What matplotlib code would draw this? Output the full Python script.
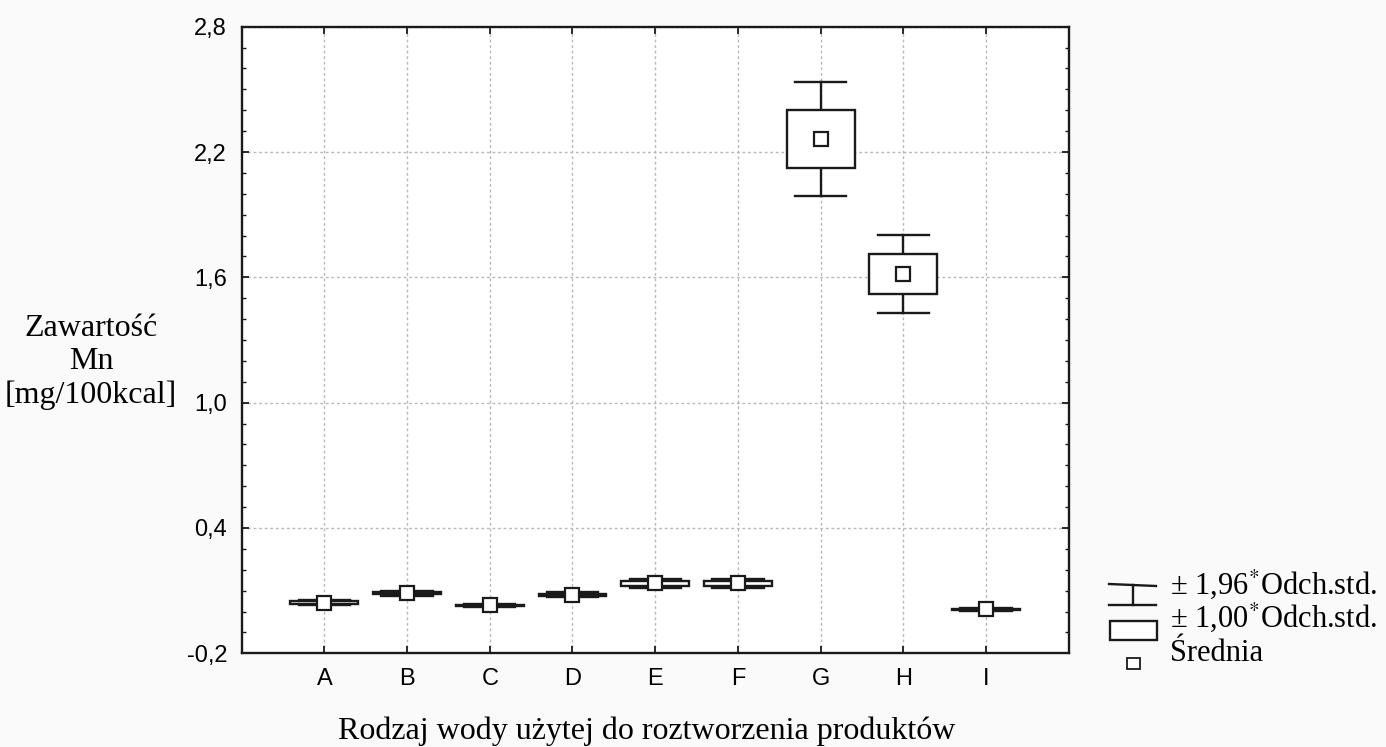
import matplotlib
matplotlib.use("Agg")
import matplotlib.pyplot as plt
from matplotlib.patches import Rectangle
from matplotlib.lines import Line2D
from matplotlib.ticker import MultipleLocator

# data
groups = ["A", "B", "C", "D", "E", "F", "G", "H", "I"]
means = [0.043, 0.088, 0.029, 0.080, 0.135, 0.135, 2.263, 1.615, 0.010]
sds = [0.006, 0.006, 0.003, 0.006, 0.011, 0.011, 0.139, 0.095, 0.003]
yticks = [-0.2, 0.4, 1.0, 1.6, 2.2, 2.8]
ytick_labels = ["-0,2", "0,4", "1,0", "1,6", "2,2", "2,8"]

INK = "#1a1a1a"
SERIF = "Liberation Serif"
SANS = "Liberation Sans"
plt.rcParams["mathtext.fontset"] = "stix"

W, H = 1386, 747
fig = plt.figure(figsize=(W / 100, H / 100), dpi=100, facecolor="#fafafa")
ax = fig.add_axes([241.7 / W, 1 - 653.3 / H, 827 / W, 626.6 / H])
ax.set_facecolor("white")

BOX_W, CAP_W = 0.82, 0.62
for i, (m, s) in enumerate(zip(means, sds)):
    x = i + 1
    lo1, hi1 = m - s, m + s
    lo2, hi2 = m - 1.96 * s, m + 1.96 * s
    ax.plot([x, x], [hi1, hi2], color=INK, lw=1.7, zorder=3)
    ax.plot([x, x], [lo2, lo1], color=INK, lw=1.7, zorder=3)
    ax.plot([x - CAP_W / 2, x + CAP_W / 2], [hi2, hi2], color=INK, lw=1.7, zorder=3)
    ax.plot([x - CAP_W / 2, x + CAP_W / 2], [lo2, lo2], color=INK, lw=1.7, zorder=3)
    ax.add_patch(Rectangle((x - BOX_W / 2, lo1), BOX_W, hi1 - lo1, facecolor="white",
                           edgecolor=INK, lw=1.7, zorder=4))
    ax.plot([x], [m], marker="s", ms=10.5, mfc="white", mec=INK, mew=1.6, zorder=5)

ax.set_xlim(0, 10)
ax.set_ylim(-0.2, 2.8)
ax.set_xticks(range(1, len(groups) + 1))
ax.set_xticklabels(groups, fontfamily=SANS, fontsize=17)
ax.set_yticks(yticks)
ax.set_yticklabels(ytick_labels, fontfamily=SANS, fontsize=17)
ax.yaxis.set_minor_locator(MultipleLocator(0.1))
ax.tick_params(axis="both", which="major", direction="in", length=5, width=1.3, color=INK,
               pad=10.5, top=True, right=True)
ax.tick_params(axis="y", which="minor", direction="in", length=3, width=1.0, color=INK, right=True)
ax.grid(True, which="major", color="#b8b8b8", ls=(0, (2, 2)), lw=1.0, zorder=0)
ax.set_axisbelow(True)
for sp in ax.spines.values():
    sp.set_linewidth(1.7)
    sp.set_color(INK)

fig.text(91 / W, 1 - 362 / H, "Zawartość\nMn\n[mg/100kcal]", ha="center", va="center",
         multialignment="center", fontfamily=SERIF, fontsize=23, linespacing=1.2)
fig.text(338 / W, 1 - 739 / H, "Rodzaj wody użytej do roztworzenia produktów", ha="left",
         va="baseline", fontfamily=SERIF, fontsize=23)

# legend drawn by hand in pixel coords
def px(x, y):
    return x / W, 1 - y / H

def fline(x0, y0, x1, y1, lw=1.7):
    (a, b), (c, d) = px(x0, y0), px(x1, y1)
    fig.add_artist(Line2D([a, c], [b, d], color=INK, lw=lw))

fline(1109, 584, 1156, 586)
fline(1133, 585, 1133, 605)
fline(1109, 605, 1156, 605)
fig.add_artist(Rectangle(px(1110, 640), 47 / W, 19 / H, facecolor="white", edgecolor=INK, lw=1.7))
fig.add_artist(Rectangle(px(1127, 669), 13 / W, 11 / H, facecolor="white", edgecolor=INK, lw=1.3))
for yy, txt in [(594, r"± 1,96$^{*}$Odch.std."), (627, r"± 1,00$^{*}$Odch.std."), (661, "Średnia")]:
    fig.text(1170 / W, 1 - yy / H, txt, ha="left", va="baseline", fontfamily=SERIF, fontsize=22)

fig.savefig("out.png", dpi=100, facecolor=fig.get_facecolor())
